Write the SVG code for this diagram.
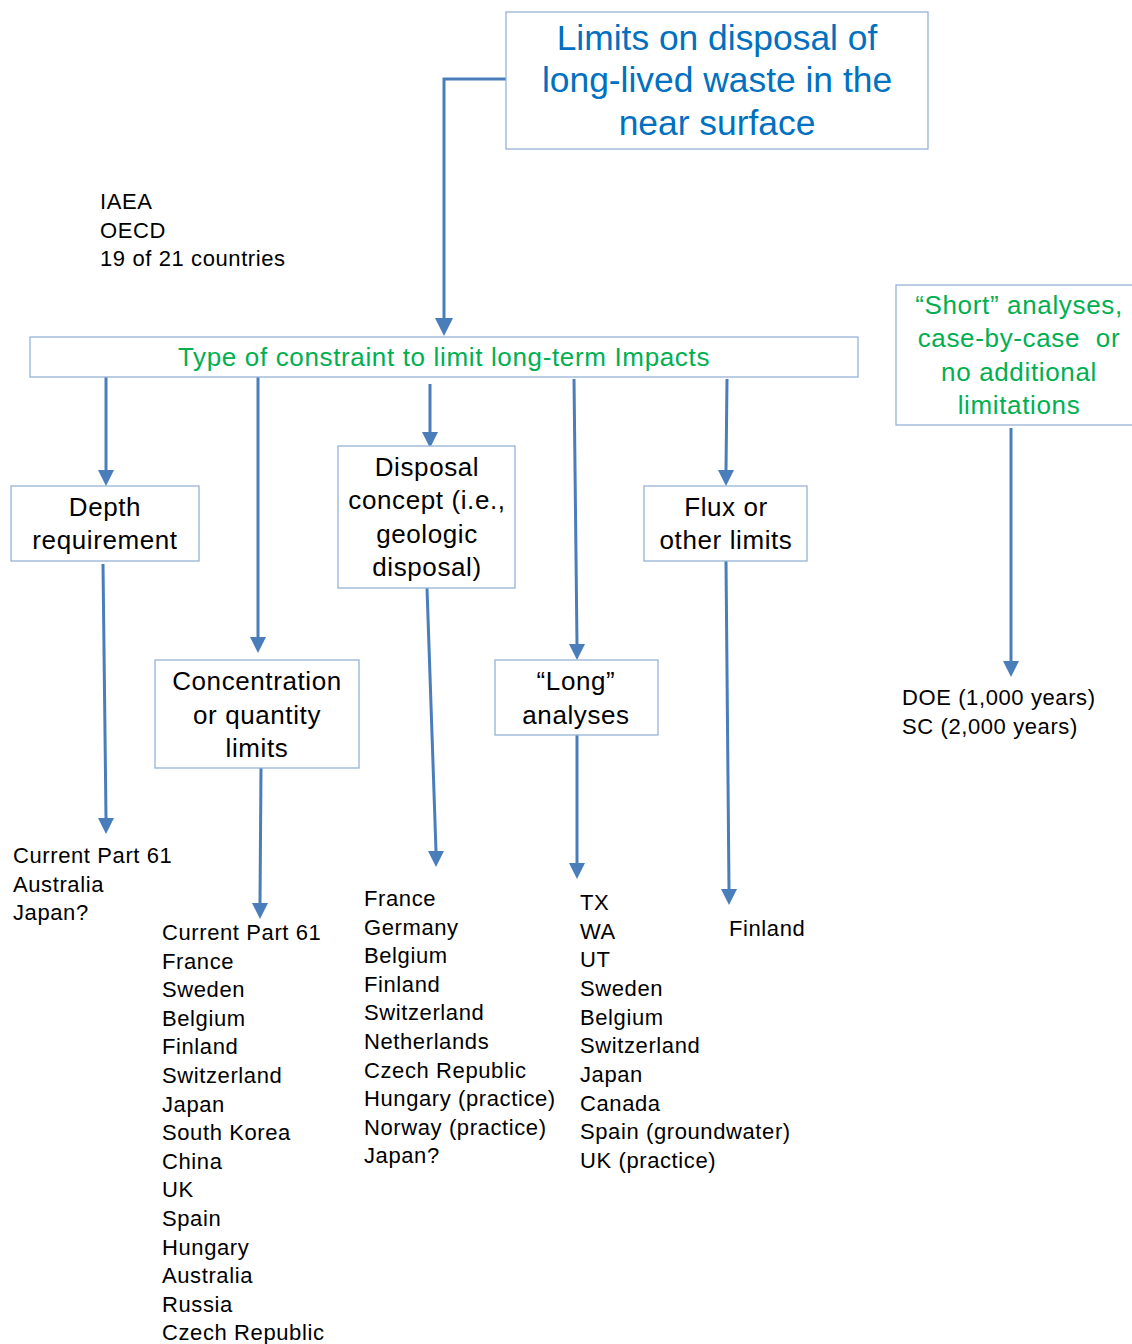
<svg xmlns="http://www.w3.org/2000/svg" width="1132" height="1344" viewBox="0 0 1132 1344">
<style>
.box{fill:#fff;stroke:#95B3D7;stroke-width:1.3}
.t{font-family:"Liberation Sans",Arial,sans-serif;font-size:26px;letter-spacing:0.6px;fill:#000;text-anchor:middle}
.title{font-family:"Liberation Sans",Arial,sans-serif;font-size:35.4px;fill:#0070C0;text-anchor:middle}
.g{font-family:"Liberation Sans",Arial,sans-serif;font-size:26px;letter-spacing:0.65px;fill:#00B050;text-anchor:middle}
.l{font-family:"Liberation Sans",Arial,sans-serif;font-size:22px;letter-spacing:0.6px;fill:#000}
.c{fill:none;stroke:#4A7EBB;stroke-width:3}
.a{fill:#4A7EBB}
</style>
<rect width="1132" height="1344" fill="#fff"/>
<g id="connectors">
<polyline class="c" points="506,79 444,79 444,318"/>
<path class="a" d="M435,318 L453,318 L444,336 Z"/>
<line class="c" x1="106" y1="377" x2="106" y2="470"/>
<path class="a" d="M98,470 L114,470 L106,486 Z"/>
<line class="c" x1="258" y1="377" x2="258" y2="637"/>
<path class="a" d="M250,637 L266,637 L258,653 Z"/>
<line class="c" x1="430" y1="384" x2="430" y2="432"/>
<path class="a" d="M422,432 L438,432 L430,448 Z"/>
<line class="c" x1="574" y1="379" x2="577" y2="644"/>
<path class="a" d="M569,644 L585,644 L577,660 Z"/>
<line class="c" x1="727" y1="379" x2="726" y2="470"/>
<path class="a" d="M718,470 L734,470 L726,486 Z"/>
<line class="c" x1="1011" y1="428" x2="1011" y2="661"/>
<path class="a" d="M1003,661 L1019,661 L1011,677 Z"/>
<line class="c" x1="103" y1="564" x2="106" y2="818"/>
<path class="a" d="M98,818 L114,818 L106,834 Z"/>
<line class="c" x1="261" y1="768" x2="260" y2="903"/>
<path class="a" d="M252,903 L268,903 L260,919 Z"/>
<line class="c" x1="427" y1="588" x2="436" y2="851"/>
<path class="a" d="M428,851 L444,851 L436,867 Z"/>
<line class="c" x1="577" y1="735" x2="577" y2="863"/>
<path class="a" d="M569,863 L585,863 L577,879 Z"/>
<line class="c" x1="726" y1="561" x2="729" y2="889"/>
<path class="a" d="M721,889 L737,889 L729,905 Z"/>
</g>
<g id="title">
<rect class="box" x="506" y="12" width="422" height="137"/>
<text class="title" x="717" y="50">Limits on disposal of</text>
<text class="title" x="717" y="92">long-lived waste in the</text>
<text class="title" x="717" y="135">near surface</text>
</g>
<g id="orgs">
<text class="l" x="100" y="209">IAEA</text>
<text class="l" x="100" y="238">OECD</text>
<text class="l" x="100" y="266">19 of 21 countries</text>
</g>
<g id="constraint">
<rect class="box" x="30" y="337" width="828" height="40"/>
<text class="g" x="444" y="366">Type of constraint to limit long-term Impacts</text>
</g>
<g id="short">
<rect class="box" x="896" y="285" width="250" height="140"/>
<text class="g" x="1019" y="314">“Short” analyses,</text>
<text class="g" x="1019" y="347">case-by-case&#160; or</text>
<text class="g" x="1019" y="381">no additional</text>
<text class="g" x="1019" y="414">limitations</text>
</g>
<g id="depth">
<rect class="box" x="11" y="486" width="188" height="75"/>
<text class="t" x="105" y="516">Depth</text>
<text class="t" x="105" y="549">requirement</text>
</g>
<g id="concentration">
<rect class="box" x="155" y="660" width="204" height="108"/>
<text class="t" x="257" y="690">Concentration</text>
<text class="t" x="257" y="724">or quantity</text>
<text class="t" x="257" y="757">limits</text>
</g>
<g id="disposal">
<rect class="box" x="338" y="446" width="177" height="142"/>
<text class="t" x="427" y="476">Disposal</text>
<text class="t" x="427" y="509">concept (i.e.,</text>
<text class="t" x="427" y="543">geologic</text>
<text class="t" x="427" y="576">disposal)</text>
</g>
<g id="long">
<rect class="box" x="495" y="660" width="163" height="75"/>
<text class="t" x="576" y="690">“Long”</text>
<text class="t" x="576" y="724">analyses</text>
</g>
<g id="flux">
<rect class="box" x="644" y="486" width="163" height="75"/>
<text class="t" x="726" y="516">Flux or</text>
<text class="t" x="726" y="549">other limits</text>
</g>
<g id="doe">
<text class="l" x="902" y="705">DOE (1,000 years)</text>
<text class="l" x="902" y="734">SC (2,000 years)</text>
</g>
<g id="depth-list">
<text class="l" x="13" y="863">Current Part 61</text>
<text class="l" x="13" y="892">Australia</text>
<text class="l" x="13" y="920">Japan?</text>
</g>
<g id="conc-list">
<text class="l" x="162" y="940">Current Part 61</text>
<text class="l" x="162" y="969">France</text>
<text class="l" x="162" y="997">Sweden</text>
<text class="l" x="162" y="1026">Belgium</text>
<text class="l" x="162" y="1054">Finland</text>
<text class="l" x="162" y="1083">Switzerland</text>
<text class="l" x="162" y="1112">Japan</text>
<text class="l" x="162" y="1140">South Korea</text>
<text class="l" x="162" y="1169">China</text>
<text class="l" x="162" y="1197">UK</text>
<text class="l" x="162" y="1226">Spain</text>
<text class="l" x="162" y="1255">Hungary</text>
<text class="l" x="162" y="1283">Australia</text>
<text class="l" x="162" y="1312">Russia</text>
<text class="l" x="162" y="1340">Czech Republic</text>
</g>
<g id="disposal-list">
<text class="l" x="364" y="906">France</text>
<text class="l" x="364" y="935">Germany</text>
<text class="l" x="364" y="963">Belgium</text>
<text class="l" x="364" y="992">Finland</text>
<text class="l" x="364" y="1020">Switzerland</text>
<text class="l" x="364" y="1049">Netherlands</text>
<text class="l" x="364" y="1078">Czech Republic</text>
<text class="l" x="364" y="1106">Hungary (practice)</text>
<text class="l" x="364" y="1135">Norway (practice)</text>
<text class="l" x="364" y="1163">Japan?</text>
</g>
<g id="long-list">
<text class="l" x="580" y="910">TX</text>
<text class="l" x="580" y="939">WA</text>
<text class="l" x="580" y="967">UT</text>
<text class="l" x="580" y="996">Sweden</text>
<text class="l" x="580" y="1025">Belgium</text>
<text class="l" x="580" y="1053">Switzerland</text>
<text class="l" x="580" y="1082">Japan</text>
<text class="l" x="580" y="1111">Canada</text>
<text class="l" x="580" y="1139">Spain (groundwater)</text>
<text class="l" x="580" y="1168">UK (practice)</text>
</g>
<g id="flux-list">
<text class="l" x="729" y="936">Finland</text>
</g>
</svg>
